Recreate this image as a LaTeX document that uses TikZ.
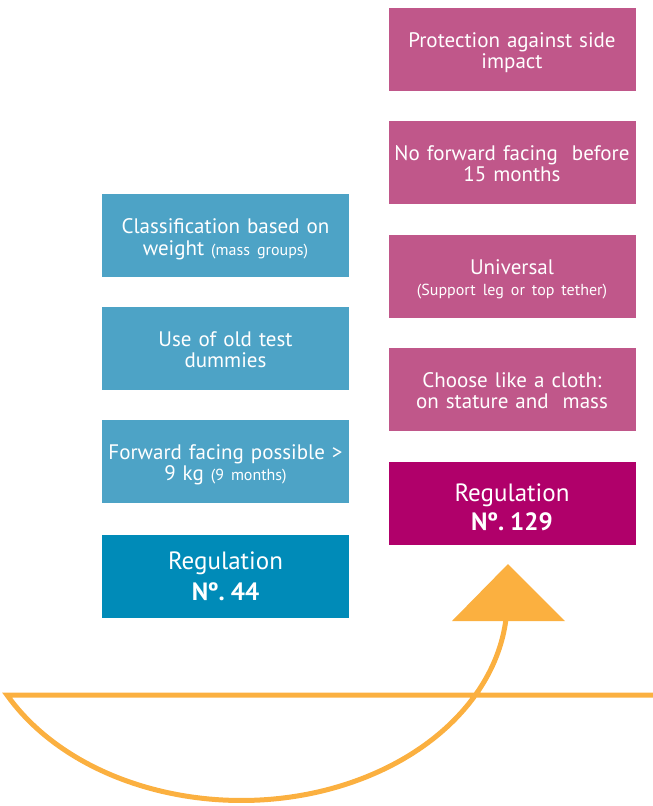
\documentclass[tikz,border=0pt]{standalone}
\usepackage{fontspec}
\setmainfont{PT Sans}
\definecolor{lblue}{HTML}{4DA3C6}
\definecolor{dblue}{HTML}{008BB8}
\definecolor{lpink}{HTML}{C0578A}
\definecolor{dpink}{HTML}{B0006A}
\definecolor{orng}{HTML}{FBB040}
\tikzset{
  box/.style={minimum width=247pt, minimum height=83pt, inner sep=2pt, align=center,
    text=white, font=\fontsize{21}{21.5}\selectfont, text width=243pt,
    text height=20pt, text depth=24pt},
  bluebox/.style={box, fill=lblue},
  pinkbox/.style={box, fill=lpink},
  regbox/.style={box, font=\fontsize{25}{29.5}\selectfont, text height=26pt, text depth=30pt},
  arrowline/.style={draw=orng, line width=5pt, line join=miter},
  arrowhead/.style={fill=orng}
}
\newcommand{\smtxt}[1]{{\fontsize{16}{21.5}\selectfont #1}}
\begin{document}
\begin{tikzpicture}[x=1pt,y=-1pt]
\useasboundingbox (0,0) rectangle (653,806);
% left column
\node[bluebox] (l1) at (225.5,235.5) {Classification based on\\weight \smtxt{(mass groups)}};
\node[bluebox] (l2) at (225.5,348) {Use of old test\\dummies};
\node[bluebox] (l3) at (225.5,461) {Forward facing possible >\\9 kg \smtxt{(9 months)}};
\node[regbox, fill=dblue, font=\fontsize{25}{31}\selectfont, text height=26pt, text depth=40pt] (l4) at (225.5,576) {Regulation\\\textbf{Nº.\kern6pt 44}};
% right column
\node[pinkbox] (r1) at (512,49) {Protection against side\\impact};
\node[pinkbox] (r2) at (512,162) {No forward facing\ \ before\\15 months};
\node[pinkbox] (r3) at (512,276) {Universal\\\smtxt{(Support leg or top tether)}};
\node[pinkbox] (r4) at (512,389) {Choose like a cloth:\\on stature and\ \ mass};
\node[regbox, fill=dpink] (r5) at (512,503) {Regulation\\\textbf{Nº.\kern6pt 129}};
% arrow
\coordinate (lineR) at (653,695);
\coordinate (lineL) at (7,695);
\coordinate (tipL) at (452,621);
\coordinate (tipR) at (565,621);
\coordinate (tipT) at (508,564);
\draw[arrowline] (lineR) -- (lineL) arc[start angle=208.3, end angle=356, x radius=266pt, y radius=200.5pt];
\fill[arrowhead] (tipL) -- (tipR) -- (tipT) -- cycle;
\end{tikzpicture}
\end{document}
